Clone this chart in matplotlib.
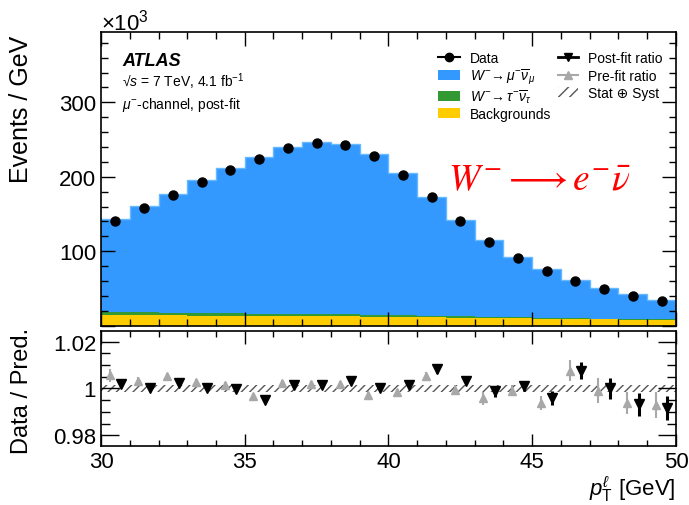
import numpy as np
import matplotlib
matplotlib.use('Agg')
import matplotlib.pyplot as plt
from matplotlib.lines import Line2D
from matplotlib.patches import Patch
from matplotlib.ticker import MultipleLocator, FuncFormatter

plt.rcParams['font.family'] = ['Liberation Sans', 'DejaVu Sans']
plt.rcParams['mathtext.fontset'] = 'custom'
plt.rcParams['mathtext.rm'] = 'Liberation Sans'
plt.rcParams['mathtext.it'] = 'Liberation Sans:italic'
plt.rcParams['mathtext.bf'] = 'Liberation Sans:bold'
plt.rcParams['hatch.linewidth'] = 1.0

# ---- data (thousands of events / GeV) ----
edges = np.arange(30, 51, 1)
data = [141, 158.5, 176, 193, 209.5, 224, 238, 245, 243, 228,
        203, 173, 141, 112.5, 91, 74, 60.5, 49, 40.5, 33.5]
total = [143, 161, 177.5, 195, 211.5, 226, 239.5, 246.5, 244, 230,
         204.5, 173, 141.5, 115, 92.5, 75.5, 61, 50, 43, 35]
bkg = [14, 14, 13.8, 13.6, 13.4, 13.2, 13, 12.8, 12.5, 12.2,
       11.8, 11.4, 11, 10.5, 10, 9.5, 9, 8.5, 8, 7.5]
wtau = [4, 4, 3.8, 3.6, 3.4, 3.2, 3, 2.8, 2.6, 2.4,
        2.2, 2, 1.8, 1.6, 1.4, 1.3, 1.2, 1.1, 1, 1]

# ratio panel
pre_ratio = [1.0057, 1.0034, 1.0052, 1.0027, 1.0016, 0.9966, 1.0024, 1.0019, 1.0019, 0.9973,
             0.9983, 1.0053, 0.9995, 0.9959, 0.9991, 0.9937, 1.0077, 0.9991, 0.9937, 0.9930]
pre_err = [0.0028, 0.0016, 0.0016, 0.0014, 0.0013, 0.0013, 0.0013, 0.0013, 0.0013, 0.0013,
           0.0014, 0.0018, 0.0020, 0.0028, 0.0025, 0.0029, 0.0043, 0.0054, 0.0048, 0.0055]
post_ratio = [1.0019, 1.0002, 1.0024, 1.0000, 0.9998, 0.9952, 1.0014, 1.0014, 1.0034, 1.0002,
              1.0016, 1.0085, 1.0034, 0.9988, 1.0009, 0.9959, 1.0077, 1.0000, 0.9933, 0.9916]
post_err = [0.0012, 0.0010, 0.0010, 0.0010, 0.0010, 0.0010, 0.0010, 0.0010, 0.0010, 0.0010,
            0.0011, 0.0018, 0.0014, 0.0024, 0.0020, 0.0030, 0.0037, 0.0043, 0.0049, 0.0050]
band = [0.0013, 0.0013, 0.0013, 0.0013, 0.0013, 0.0013, 0.0013, 0.0013, 0.0013, 0.0013,
        0.0013, 0.0013, 0.0013, 0.0013, 0.0014, 0.0014, 0.0014, 0.0015, 0.0015, 0.0015]

BLUE, GREEN, YELLOW = '#3399FF', '#339933', '#FFCC00'
centers = (edges[:-1] + edges[1:]) / 2
bkg = np.array(bkg); wtau = np.array(wtau); total = np.array(total)

fig = plt.figure(figsize=(6.89, 5.06), dpi=100)
ax = fig.add_axes([0.1466, 0.3543, 0.8345, 0.5799])
axr = fig.add_axes([0.1466, 0.1172, 0.8345, 0.2261])

# stacked histograms
ax.stairs(total, edges, baseline=0, fill=True, color=BLUE, lw=0)
ax.stairs(total, edges, baseline=None, color='#66B8FF', lw=1.0)
ax.stairs(bkg + wtau, edges, baseline=0, fill=True, color=GREEN, lw=0)
ax.stairs(bkg, edges, baseline=0, fill=True, color=YELLOW, lw=0)
ax.plot(centers, data, 'o', color='k', ms=6.5, zorder=5)

ax.set_xlim(30, 50); ax.set_ylim(0, 394)
ax.xaxis.set_major_locator(MultipleLocator(5)); ax.xaxis.set_minor_locator(MultipleLocator(1))
ax.yaxis.set_major_locator(MultipleLocator(100)); ax.yaxis.set_minor_locator(MultipleLocator(20))
ax.yaxis.set_major_formatter(FuncFormatter(lambda v, p: '' if v == 0 else f'{v:.0f}'))
ax.tick_params(labelbottom=False)
ax.set_ylabel('Events / GeV', fontsize=18)
ax.yaxis.set_label_coords(-0.118, 0.742)
fig.text(0.1466, 1 - 36 / 506, r'$\times$10$^3$', fontsize=16, ha='left', va='bottom')

ax.text(0.037, 0.903, 'ATLAS', transform=ax.transAxes, fontsize=13, fontweight='bold',
        fontstyle='italic', va='center')
ax.text(0.037, 0.834, '\u221a$s$ = 7 TeV, 4.1 fb$^{-1}$', transform=ax.transAxes,
        fontsize=10, va='center')
ax.text(0.037, 0.755, r'$\mu^{-}$-channel, post-fit', transform=ax.transAxes,
        fontsize=10, va='center')
ax.text(0.603, 0.466, r'$W^{-}\longrightarrow e^{-}\bar{\nu}$', transform=ax.transAxes,
        fontsize=27, color='red', va='baseline', math_fontfamily='stix')

# legend, two columns built as two legends
h1 = [Line2D([], [], color='k', marker='o', ms=6, lw=1.5),
      Patch(facecolor=BLUE, edgecolor='none'),
      Patch(facecolor=GREEN, edgecolor='none'),
      Patch(facecolor=YELLOW, edgecolor='none')]
l1 = ['Data', r'$W^{-}\!\rightarrow\mu^{-}\overline{\nu}_{\mu}$',
      r'$W^{-}\!\rightarrow\tau^{-}\overline{\nu}_{\tau}$', 'Backgrounds']
h2 = [Line2D([], [], color='k', marker='v', ms=6, lw=2),
      Line2D([], [], color='#A8A8A8', marker='^', ms=6, lw=1.5),
      Patch(facecolor='none', edgecolor='#555555', hatch='///', lw=0)]
l2 = ['Post-fit ratio', 'Pre-fit ratio', 'Stat \u2295 Syst']
leg1 = ax.legend(h1, l1, loc='upper left', bbox_to_anchor=(0.5765, 0.955),
                 frameon=False, fontsize=10, handlelength=1.6, handletextpad=0.7,
                 labelspacing=0.1, borderaxespad=0)
ax.add_artist(leg1)
ax.legend(h2, l2, loc='upper left', bbox_to_anchor=(0.7852, 0.955),
          frameon=False, fontsize=10, handlelength=1.45, handletextpad=0.7,
          labelspacing=0.25, borderaxespad=0)

# ratio panel
band = np.array(band)
axr.fill_between(edges, np.append(1 - band, 1 - band[-1]), np.append(1 + band, 1 + band[-1]),
                 step='post', facecolor='none', edgecolor='#555555', hatch='////', lw=0)
axr.errorbar(centers - 0.2, pre_ratio, yerr=pre_err, fmt='^', color='#A8A8A8', ms=6,
             elinewidth=1.5, capsize=0)
axr.errorbar(centers + 0.2, post_ratio, yerr=post_err, fmt='v', color='k', ms=6.5,
             elinewidth=2.2, capsize=0)
axr.set_xlim(30, 50); axr.set_ylim(0.9755, 1.0245)
axr.xaxis.set_major_locator(MultipleLocator(5)); axr.xaxis.set_minor_locator(MultipleLocator(1))
axr.yaxis.set_major_locator(MultipleLocator(0.02)); axr.yaxis.set_minor_locator(MultipleLocator(0.005))
axr.yaxis.set_major_formatter(FuncFormatter(lambda v, p: f'{v:g}'))
axr.set_ylabel('Data / Pred.', fontsize=17)
axr.yaxis.set_label_coords(-0.118, 0.487)
axr.set_xlabel(r'$p_{\mathrm{T}}^{\ell}$ [GeV]', fontsize=16, loc='right', labelpad=1)

for a in (ax, axr):
    a.tick_params(which='both', direction='in', top=True, right=True, width=1, labelsize=16)
    for s in a.spines.values():
        s.set_linewidth(1.2)
ax.tick_params(which='major', length=10)
ax.tick_params(which='minor', length=5)
axr.tick_params(axis='x', which='major', length=9)
axr.tick_params(axis='x', which='minor', length=4.5)
axr.tick_params(axis='y', which='major', length=13)
axr.tick_params(axis='y', which='minor', length=6.5)

fig.savefig('out.png', dpi=100)
